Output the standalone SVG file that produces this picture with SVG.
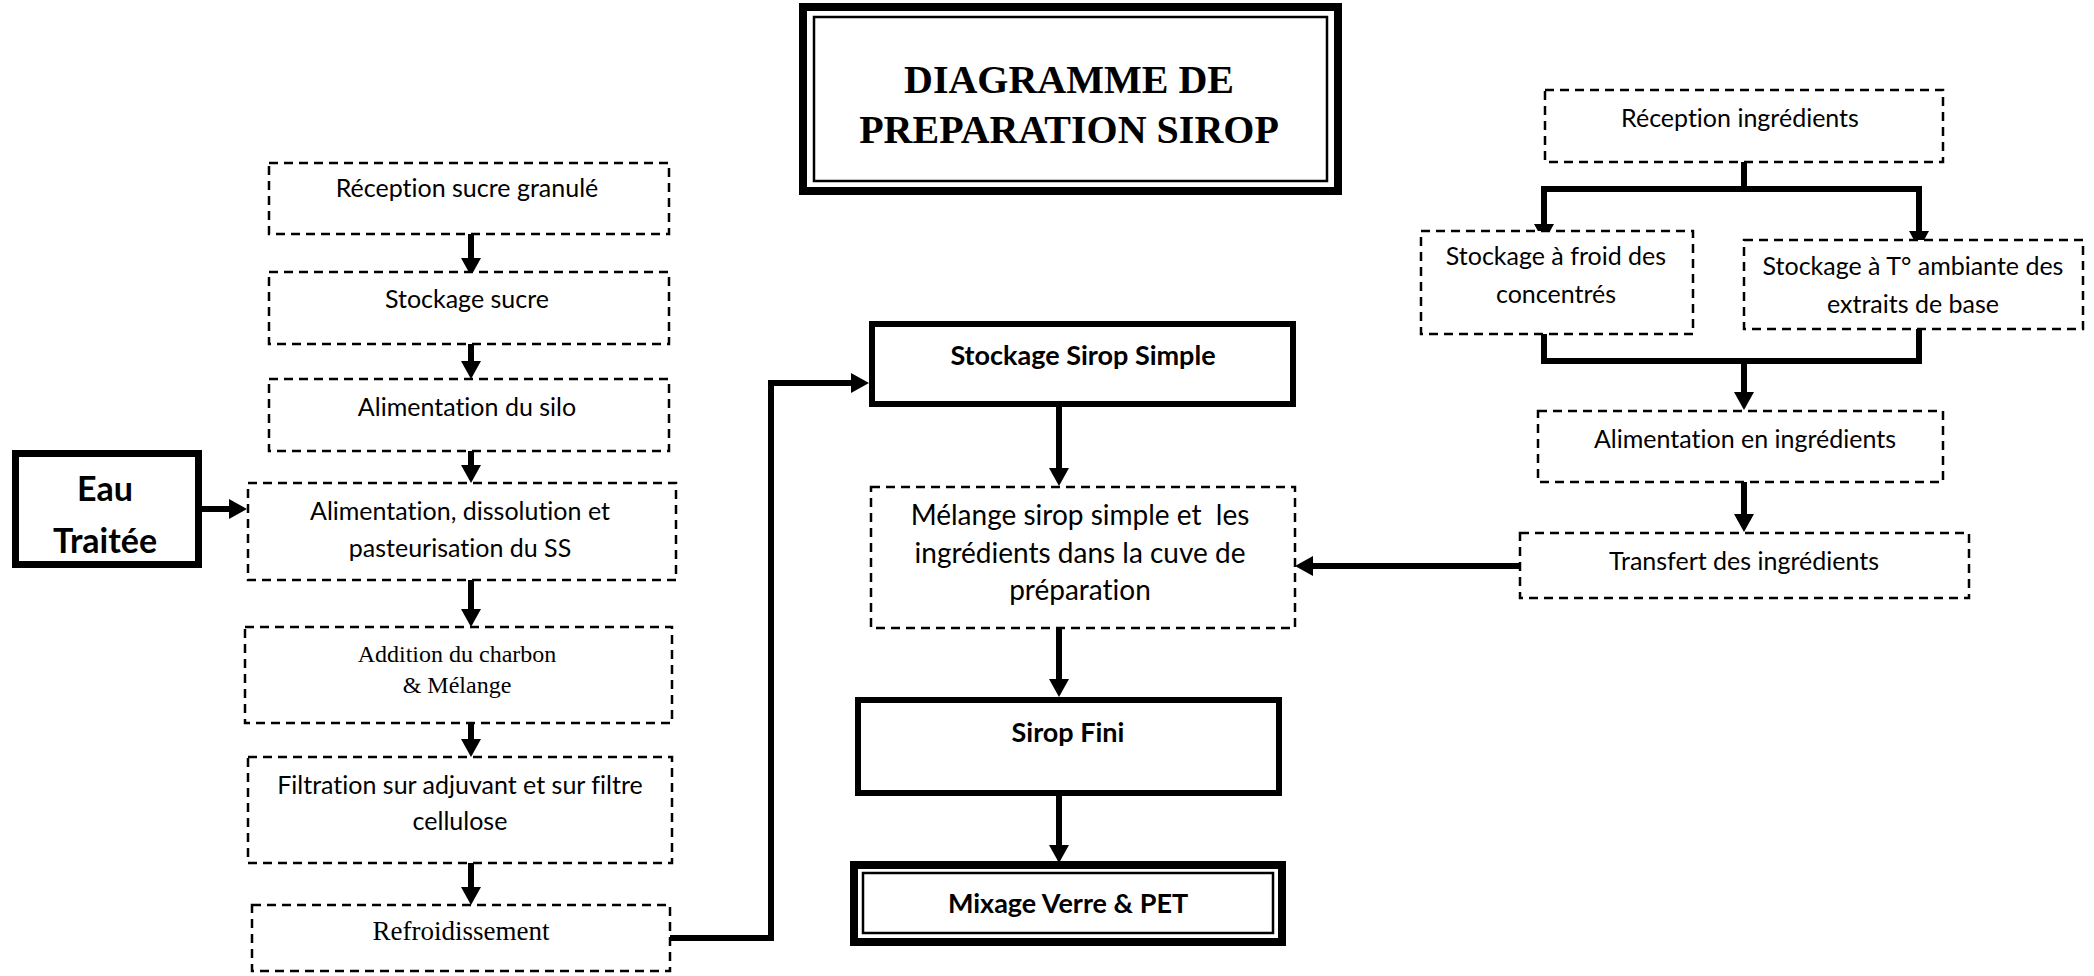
<svg xmlns="http://www.w3.org/2000/svg" width="2094" height="976" viewBox="0 0 2094 976">
<style>
.dash{fill:#fff;stroke:#000;stroke-width:2.5;stroke-dasharray:9 6}
.thick{fill:#fff;stroke:#000;stroke-width:6}
.outer{fill:#fff;stroke:#000;stroke-width:8}
.inner{fill:none;stroke:#000;stroke-width:2.5}
.t{font-family:Lato,"Liberation Sans",sans-serif;font-size:25px;fill:#000;text-anchor:middle;font-variant-ligatures:none}
.tb{font-family:Lato,"Liberation Sans",sans-serif;font-size:27px;font-weight:bold;fill:#000;text-anchor:middle;font-variant-ligatures:none}
.ts{font-family:"Liberation Serif",serif;font-size:24px;fill:#000;text-anchor:middle}
.title{font-family:"Liberation Serif",serif;font-size:40px;font-weight:bold;fill:#000;text-anchor:middle}
.c{fill:none;stroke:#000;stroke-width:6}
.a{fill:none;stroke:#000;stroke-width:6;marker-end:url(#ah)}
</style>
<defs>
<marker id="ah" viewBox="0 0 18 20" refX="6" refY="10" markerWidth="18" markerHeight="20" markerUnits="userSpaceOnUse" orient="auto">
<path d="M0,0 L18,10 L0,20 z" fill="#000"/>
</marker>
</defs>
<rect width="2094" height="976" fill="#fff"/>

<g id="title">
<rect class="outer" x="803" y="7" width="535" height="184"/>
<rect class="inner" x="814" y="17" width="513" height="164"/>
<text class="title" x="1069" y="93">DIAGRAMME DE</text>
<text class="title" x="1069" y="143">PREPARATION SIROP</text>
</g>

<g id="connectors">
<line class="a" x1="471" y1="234" x2="471" y2="264"/>
<line class="a" x1="471" y1="344" x2="471" y2="367"/>
<line class="a" x1="471" y1="451" x2="471" y2="471"/>
<line class="a" x1="471" y1="580" x2="471" y2="615"/>
<line class="a" x1="471" y1="723" x2="471" y2="745"/>
<line class="a" x1="471" y1="863" x2="471" y2="893"/>
<line class="a" x1="202" y1="509" x2="235" y2="509"/>
<path class="a" d="M670,938 H771 V383 H857"/>
<line class="a" x1="1059" y1="407" x2="1059" y2="474"/>
<line class="a" x1="1059" y1="628" x2="1059" y2="685"/>
<line class="a" x1="1059" y1="796" x2="1059" y2="851"/>
<line class="c" x1="1744" y1="148" x2="1744" y2="192"/>
<path class="c" d="M1544,231 V189 H1919"/>
<line class="a" x1="1544" y1="186" x2="1544" y2="230"/>
<line class="a" x1="1919" y1="186" x2="1919" y2="237"/>
<path class="c" d="M1544,322 V361 H1919 V322"/>
<line class="a" x1="1744" y1="358" x2="1744" y2="398"/>
<line class="a" x1="1744" y1="482" x2="1744" y2="520"/>
<line class="a" x1="1520" y1="566" x2="1307" y2="566"/>
</g>

<g id="eau">
<rect x="15.5" y="453.5" width="183" height="111" fill="#fff" stroke="#000" stroke-width="7"/>
<text class="tb" x="105" y="501" style="font-size:34px">Eau</text>
<text class="tb" x="105" y="553" style="font-size:34px">Traitée</text>
</g>

<g id="reception-sucre">
<rect class="dash" x="269" y="163" width="400" height="71"/>
<text class="t" x="467" y="197">Réception sucre granulé</text>
</g>
<g id="stockage-sucre">
<rect class="dash" x="269" y="272" width="400" height="72"/>
<text class="t" x="467" y="308">Stockage sucre</text>
</g>
<g id="alimentation-silo">
<rect class="dash" x="269" y="379" width="400" height="72"/>
<text class="t" x="467" y="416">Alimentation du silo</text>
</g>
<g id="dissolution">
<rect class="dash" x="248" y="483" width="428" height="97"/>
<text class="t" x="460" y="520">Alimentation, dissolution et</text>
<text class="t" x="460" y="557">pasteurisation du SS</text>
</g>
<g id="charbon">
<rect class="dash" x="245" y="627" width="427" height="96"/>
<text class="ts" x="457" y="662">Addition du charbon</text>
<text class="ts" x="457" y="693">&amp; Mélange</text>
</g>
<g id="filtration">
<rect class="dash" x="248" y="757" width="424" height="106"/>
<text class="t" x="460" y="794">Filtration sur adjuvant et sur filtre</text>
<text class="t" x="460" y="830">cellulose</text>
</g>
<g id="refroidissement">
<rect class="dash" x="252" y="905" width="418" height="66"/>
<text class="ts" x="461" y="940" style="font-size:27px">Refroidissement</text>
</g>

<g id="stockage-sirop">
<rect class="thick" x="872" y="324" width="421" height="80"/>
<text class="tb" x="1083" y="365">Stockage Sirop Simple</text>
</g>
<g id="melange">
<rect class="dash" x="871" y="487" width="424" height="141"/>
<text class="t" x="1080" y="525" style="font-size:28px">Mélange sirop simple et&#160; les</text>
<text class="t" x="1080" y="563" style="font-size:28px">ingrédients dans la cuve de</text>
<text class="t" x="1080" y="600" style="font-size:28px">préparation</text>
</g>
<g id="sirop-fini">
<rect class="thick" x="858" y="700" width="421" height="93"/>
<text class="tb" x="1068" y="742">Sirop Fini</text>
</g>
<g id="mixage">
<rect class="outer" x="854" y="865" width="428" height="77"/>
<rect class="inner" x="863" y="873" width="410" height="60"/>
<text class="tb" x="1068" y="913">Mixage Verre &amp; PET</text>
</g>

<g id="reception-ingredients">
<rect class="dash" x="1545" y="90" width="398" height="72"/>
<text class="t" x="1740" y="127">Réception ingrédients</text>
</g>
<g id="stockage-froid">
<rect class="dash" x="1421" y="231" width="272" height="103"/>
<text class="t" x="1556" y="265">Stockage à froid des</text>
<text class="t" x="1556" y="303">concentrés</text>
</g>
<g id="stockage-ambiante">
<rect class="dash" x="1744" y="240" width="339" height="89"/>
<text class="t" x="1913" y="275">Stockage à T° ambiante des</text>
<text class="t" x="1913" y="313">extraits de base</text>
</g>
<g id="alimentation-ingredients">
<rect class="dash" x="1538" y="411" width="405" height="71"/>
<text class="t" x="1745" y="448">Alimentation en ingrédients</text>
</g>
<g id="transfert">
<rect class="dash" x="1520" y="533" width="449" height="65"/>
<text class="t" x="1744" y="570">Transfert des ingrédients</text>
</g>
</svg>
